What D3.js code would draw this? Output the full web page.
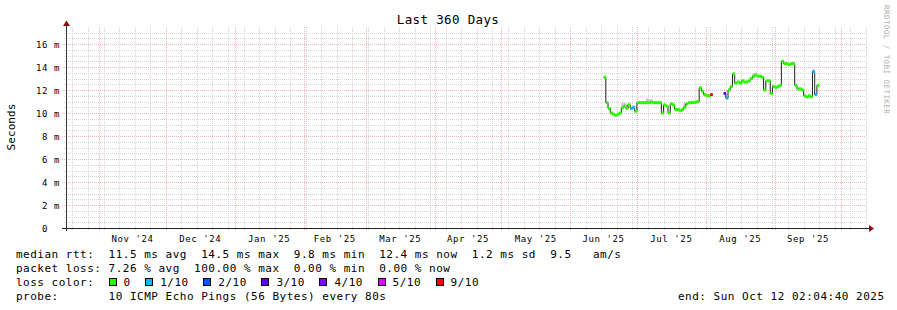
<!DOCTYPE html>
<html><head><meta charset="utf-8">
<script src="https://cdn.jsdelivr.net/npm/d3@7"></script>
<style>
body{margin:0;background:#fff}
svg{display:block}
text{font-family:"DejaVu Sans Mono",monospace;fill:#000;white-space:pre}
</style>
</head><body>
<svg id="c" width="897" height="310"></svg>
<script>
// ---------- data ----------
const startTime = "2024-10-17T02:04:40Z";
const endTime = "2025-10-12T02:04:40Z";
const monthStarts = ["2024-11-01","2024-12-01","2025-01-01","2025-02-01","2025-03-01","2025-04-01","2025-05-01","2025-06-01","2025-07-01","2025-08-01","2025-09-01","2025-10-01"];
const monthLabels = ["Nov '24","Dec '24","Jan '25","Feb '25","Mar '25","Apr '25","May '25","Jun '25","Jul '25","Aug '25","Sep '25"];
const yTicks = [0,2,4,6,8,10,12,14,16];
const yTickLabels = ["0","2 m","4 m","6 m","8 m","10 m","12 m","14 m","16 m"];
const seriesStart = "2025-06-16T00:00:00Z"; // first daily sample
const medianMs = [
 13.1,10.9,10.4,10.0,9.9,9.8,9.9,10.0,10.45,10.6,
 10.4,10.7,10.4,10.5,10.15,10.9,10.9,10.9,10.9,10.9,
 10.9,10.95,10.9,10.9,10.9,10.9,10.0,10.7,10.6,10.0,
 10.8,10.7,10.3,10.3,10.2,10.3,10.5,10.8,10.9,10.9,
 10.9,10.95,11.0,12.2,11.9,11.6,11.5,11.5,11.6,null,
 null,null,null,null,11.7,11.3,12.0,12.3,13.4,12.6,
 12.7,12.6,12.8,12.7,12.7,12.8,13.0,13.2,13.3,13.2,
 13.2,13.1,12.0,12.8,12.8,11.7,12.3,12.2,12.3,12.4,
 14.5,14.3,14.3,14.2,14.3,14.3,12.4,12.1,12.1,12.0,
 11.5,11.4,11.5,11.4,13.6,11.6,12.4];
const lossLevel = [
 0,0,0,0,0,0,0,0,0,0,
 0,0,1,1,0,0,0,0,0,0,
 0,0,0,0,0,0,0,0,0,0,
 0,0,0,0,0,0,0,0,0,0,
 0,0,0,0,0,0,0,0,6,0,
 0,0,0,0,3,1,0,0,0,0,
 0,0,0,0,0,0,0,0,0,0,
 0,0,0,0,0,0,0,0,0,0,
 0,0,0,0,0,0,0,0,0,0,
 0,0,0,0,1,1,0];
const smokeDay = [8,9,10,11,19,20,21,36,67,68,94];
const smokeHi  = [10.9,10.9,10.8,10.9,11.25,11.2,11.2,10.9,13.45,13.5,13.8];
const lossLabels = ["0","1/10","2/10","3/10","4/10","5/10","9/10"];
const lossColors = ["#26ff00","#00b8ff","#0059ff","#5e00ff","#7e00ff","#dd00ff","#ff0000"];
const legendLines = [
 "median rtt:  11.5 ms avg  14.5 ms max  9.8 ms min  12.4 ms now  1.2 ms sd  9.5   am/s",
 "packet loss: 7.26 % avg  100.00 % max  0.00 % min  0.00 % now",
 "loss color:",
 "probe:       10 ICMP Echo Pings (56 Bytes) every 80s"];
const endLabel = "end: Sun Oct 12 02:04:40 2025";
const title = "Last 360 Days";

// ---------- scales ----------
const svg = d3.select("#c");
const DAY = 86400000;
const x = d3.scaleUtc().domain([new Date(startTime), new Date(endTime)]).range([66, 866]);
const y = d3.scaleLinear().domain([0, 17.48]).range([228, 27]);
const py = v => Math.round(y(v)) + 0.5;
const px = t => Math.round(x(t)) + 0.5;

// ---------- grid ----------
const g = svg.append("g").attr("shape-rendering","crispEdges");
const minorH = d3.range(0.5, 17.48, 0.5).filter(v => v % 2 !== 0);
g.selectAll(".hmin").data(minorH).enter().append("line")
 .attr("x1",64).attr("x2",866).attr("y1",d=>py(d)).attr("y2",d=>py(d))
 .attr("stroke","#d6d6d6").attr("stroke-dasharray","1,1");
const weeks = d3.utcSunday.range(new Date(startTime), new Date(endTime));
g.selectAll(".vmin").data(weeks).enter().append("line")
 .attr("x1",d=>px(d)).attr("x2",d=>px(d)).attr("y1",27).attr("y2",230)
 .attr("stroke","#d6d6d6").attr("stroke-dasharray","1,1");
g.selectAll(".hmaj").data(yTicks.filter(v=>v>0)).enter().append("line")
 .attr("x1",62).attr("x2",866).attr("y1",d=>py(d)).attr("y2",d=>py(d))
 .attr("stroke","#f2b4b4").attr("stroke-dasharray","1,1");
const months = monthStarts.map(s=>new Date(s+"T00:00:00Z")).filter(d=>d<new Date(endTime));
g.selectAll(".vmaj").data(months).enter().append("line")
 .attr("x1",d=>px(d)).attr("x2",d=>px(d)).attr("y1",27).attr("y2",231)
 .attr("stroke","#f2b4b4").attr("stroke-dasharray","1,1");

// ---------- series ----------
const t0 = new Date(seriesStart).getTime();
const pts = medianMs.map((v,i)=>({t:new Date(t0+i*DAY), t1:new Date(t0+(i+1)*DAY), v, loss:lossLevel[i]}));
svg.append("g").selectAll("rect").data(smokeDay.map((d,i)=>({d,hi:smokeHi[i]}))).enter().append("rect")
 .attr("x",d=>x(pts[d.d].t)).attr("width",d=>x(pts[d.d].t1)-x(pts[d.d].t))
 .attr("y",d=>y(d.hi)).attr("height",d=>y(pts[d.d].v)-y(d.hi))
 .attr("fill","#c8c8c8");
const stepPts = [];
pts.forEach(p=>{ stepPts.push({t:p.t,v:p.v}); stepPts.push({t:p.t1,v:p.v}); });
const line = d3.line().defined(d=>d.v!==null).x(d=>x(d.t)).y(d=>y(d.v));
svg.append("path").attr("d",line(stepPts)).attr("fill","none").attr("stroke","#202020").attr("stroke-width",1);
svg.append("g").selectAll("rect").data(pts.filter(p=>p.v!==null)).enter().append("rect")
 .attr("x",d=>x(d.t)).attr("width",d=>x(d.t1)-x(d.t)+0.3)
 .attr("y",d=>y(d.v)-1.5).attr("height",3)
 .attr("fill",d=>lossColors[d.loss]);

// ---------- axes ----------
const ax = svg.append("g").attr("shape-rendering","crispEdges");
ax.append("line").attr("x1",62).attr("x2",869).attr("y1",228.5).attr("y2",228.5).attr("stroke","#222");
ax.append("line").attr("x1",66.5).attr("x2",66.5).attr("y1",231).attr("y2",25).attr("stroke","#333");
svg.append("path").attr("d","M869,225L874,228.5L869,232Z").attr("fill","#8b1010");
svg.append("path").attr("d","M63,26L66.5,20.5L70,26Z").attr("fill","#8b1010");

const yl = svg.append("g").style("font-size","9px").style("letter-spacing","0.6px");
yl.selectAll("text").data(yTicks).enter().append("text")
 .attr("x",60).attr("y",d=>py(d)+3.3).attr("text-anchor","end")
 .text((d,i)=> yTickLabels[i].includes("m") ? yTickLabels[i] : yTickLabels[i]+"  ");
const xl = svg.append("g").style("font-size","9px").style("letter-spacing","0.6px");
xl.selectAll("text").data(monthLabels).enter().append("text")
 .attr("x",(d,i)=>(x(new Date(monthStarts[i]+"T00:00:00Z"))+x(new Date(monthStarts[i+1]+"T00:00:00Z")))/2)
 .attr("y",242).attr("text-anchor","middle").text(d=>d);

svg.append("text").attr("x",448).attr("y",24).attr("text-anchor","middle")
 .style("font-size","12.5px").style("letter-spacing","0.35px").text(title);
svg.append("text").attr("transform","translate(15,127) rotate(-90)").attr("text-anchor","middle")
 .style("font-size","11px").style("letter-spacing","0.1px").text("Seconds");
svg.append("text").attr("transform","translate(884,5) rotate(90)")
 .style("font-size","7.5px").style("letter-spacing","0.45px").style("fill","#b0b0b0").text("RRDTOOL / TOBI OETIKER");

// ---------- legend ----------
const lg = svg.append("g").style("font-size","11px").style("letter-spacing","0.5px");
const lineY = [258,272,286,300];
legendLines.forEach((s,i)=>lg.append("text").attr("x",16).attr("y",lineY[i]).text(s));
lg.append("text").attr("x",678).attr("y",300).text(endLabel);
let bx = 108.5;
lossLabels.forEach((lab,i)=>{
  lg.append("rect").attr("x",bx+0.5).attr("y",278.5).attr("width",7).attr("height",7)
    .attr("fill",lossColors[i]).attr("stroke","#000").attr("shape-rendering","crispEdges");
  lg.append("text").attr("x",bx+15).attr("y",286).text(lab);
  bx = bx + 15 + lab.length*7.12 + 14.6;
});
</script>
</body></html>
